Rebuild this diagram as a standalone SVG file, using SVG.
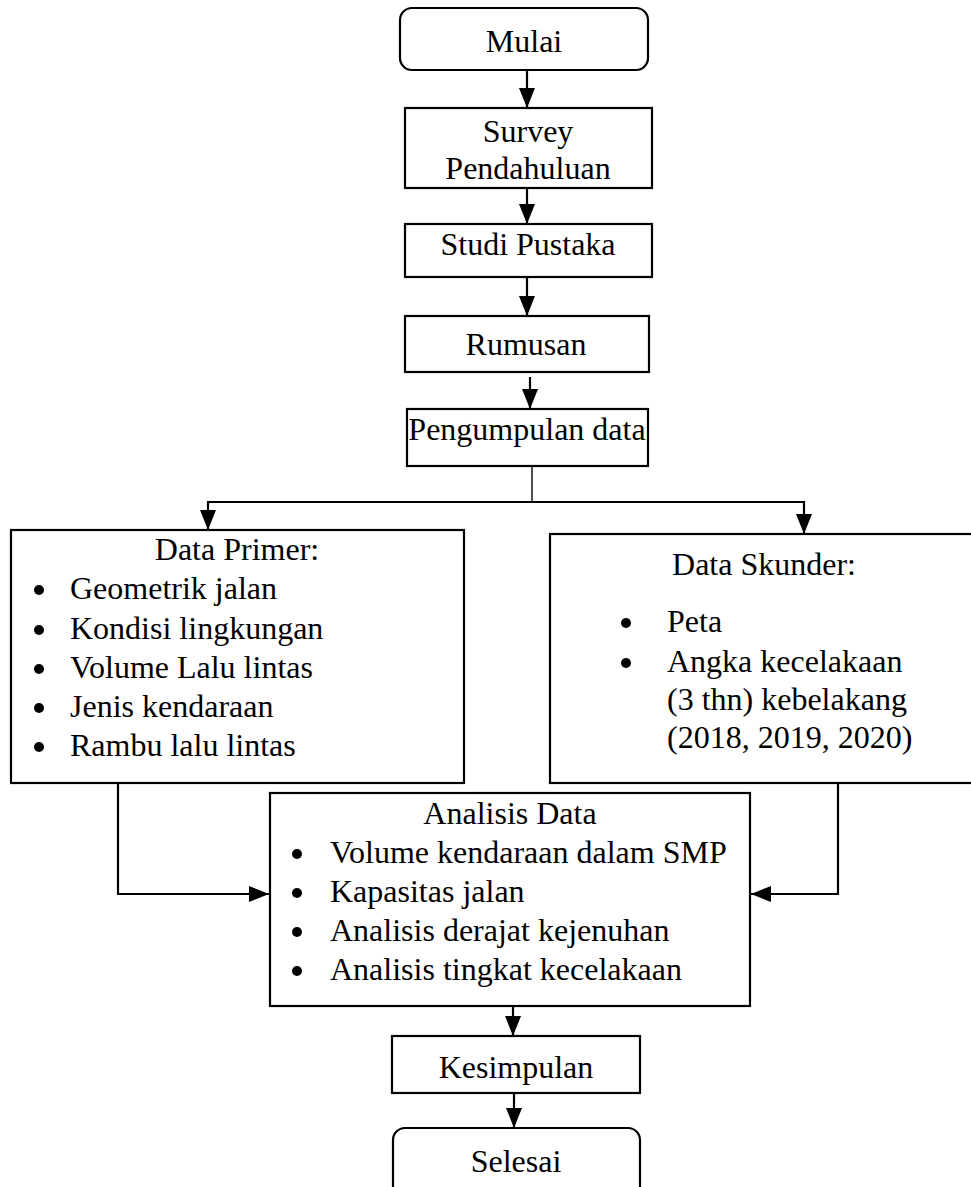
<svg xmlns="http://www.w3.org/2000/svg" width="971" height="1187" viewBox="0 0 971 1187">
<style>
.box{fill:#fff;stroke:#000;stroke-width:2.2}
.t{font-family:"Liberation Serif","Times New Roman",serif;font-size:32px;fill:#000}
.c{text-anchor:middle}
.ln{fill:none;stroke:#000;stroke-width:2.2}
.thin{fill:none;stroke:#000;stroke-width:1.4}
.dot{fill:#000}
</style>
<defs>
<marker id="ah" viewBox="0 0 20 16" refX="20" refY="8" markerWidth="20" markerHeight="16" markerUnits="userSpaceOnUse" orient="auto">
<path d="M0,0 L20,8 L0,16 z" fill="#000"/>
</marker>
</defs>
<rect width="971" height="1187" fill="#fff"/>
<g id="connectors">
<line class="ln" x1="527" y1="70" x2="527" y2="108" marker-end="url(#ah)"/>
<line class="ln" x1="527" y1="188" x2="527" y2="224" marker-end="url(#ah)"/>
<line class="ln" x1="527" y1="277" x2="527" y2="316" marker-end="url(#ah)"/>
<line class="ln" x1="530" y1="377" x2="530" y2="409" marker-end="url(#ah)"/>
<line class="thin" x1="532" y1="466" x2="532" y2="502"/>
<line class="ln" x1="207" y1="502" x2="805" y2="502"/>
<line class="ln" x1="208" y1="501" x2="208" y2="530" marker-end="url(#ah)"/>
<line class="ln" x1="804" y1="501" x2="804" y2="534" marker-end="url(#ah)"/>
<polyline class="ln" points="118,783 118,894 269,894" marker-end="url(#ah)"/>
<polyline class="ln" points="838,783 838,894 751,894" marker-end="url(#ah)"/>
<line class="ln" x1="513" y1="1006" x2="513" y2="1036" marker-end="url(#ah)"/>
<line class="ln" x1="514" y1="1093" x2="514" y2="1128" marker-end="url(#ah)"/>
</g>
<g id="mulai">
<rect class="box" x="400" y="8" width="248" height="62" rx="12"/>
<text class="t c" x="524" y="52">Mulai</text>
</g>
<g id="survey">
<rect class="box" x="405" y="108" width="247" height="80"/>
<text class="t c" x="528" y="142">Survey</text>
<text class="t c" x="528" y="179">Pendahuluan</text>
</g>
<g id="studi">
<rect class="box" x="405" y="224" width="247" height="53"/>
<text class="t c" x="528" y="255">Studi Pustaka</text>
</g>
<g id="rumusan">
<rect class="box" x="405" y="316" width="244" height="56"/>
<text class="t c" x="526" y="355">Rumusan</text>
</g>
<g id="pengumpulan">
<rect class="box" x="407" y="409" width="241" height="57"/>
<text class="t c" x="527" y="440">Pengumpulan data</text>
</g>
<g id="primer">
<rect class="box" x="11" y="530" width="453" height="253"/>
<text class="t c" x="237" y="560">Data Primer:</text>
<circle class="dot" cx="39" cy="590" r="5"/>
<circle class="dot" cx="39" cy="630" r="5"/>
<circle class="dot" cx="39" cy="669" r="5"/>
<circle class="dot" cx="39" cy="708" r="5"/>
<circle class="dot" cx="39" cy="747" r="5"/>
<text class="t" x="70" y="599">Geometrik jalan</text>
<text class="t" x="70" y="639">Kondisi lingkungan</text>
<text class="t" x="70" y="678">Volume Lalu lintas</text>
<text class="t" x="70" y="717">Jenis kendaraan</text>
<text class="t" x="70" y="756">Rambu lalu lintas</text>
</g>
<g id="skunder">
<rect class="box" x="550" y="534" width="430" height="249"/>
<text class="t c" x="764" y="575">Data Skunder:</text>
<circle class="dot" cx="626" cy="623" r="5"/>
<circle class="dot" cx="626" cy="663" r="5"/>
<text class="t" x="667" y="632">Peta</text>
<text class="t" x="667" y="672">Angka kecelakaan</text>
<text class="t" x="667" y="710">(3 thn) kebelakang</text>
<text class="t" x="667" y="748">(2018, 2019, 2020)</text>
</g>
<g id="analisis">
<rect class="box" x="270" y="793" width="480" height="213"/>
<text class="t c" x="510" y="824">Analisis Data</text>
<circle class="dot" cx="297" cy="854" r="5"/>
<circle class="dot" cx="297" cy="893" r="5"/>
<circle class="dot" cx="297" cy="932" r="5"/>
<circle class="dot" cx="297" cy="971" r="5"/>
<text class="t" x="330" y="863">Volume kendaraan dalam SMP</text>
<text class="t" x="330" y="902">Kapasitas jalan</text>
<text class="t" x="330" y="941">Analisis derajat kejenuhan</text>
<text class="t" x="330" y="980">Analisis tingkat kecelakaan</text>
</g>
<g id="kesimpulan">
<rect class="box" x="392" y="1036" width="248" height="57"/>
<text class="t c" x="516" y="1078">Kesimpulan</text>
</g>
<g id="selesai">
<rect class="box" x="393" y="1128" width="247" height="72" rx="12"/>
<text class="t c" x="516" y="1172">Selesai</text>
</g>
</svg>
